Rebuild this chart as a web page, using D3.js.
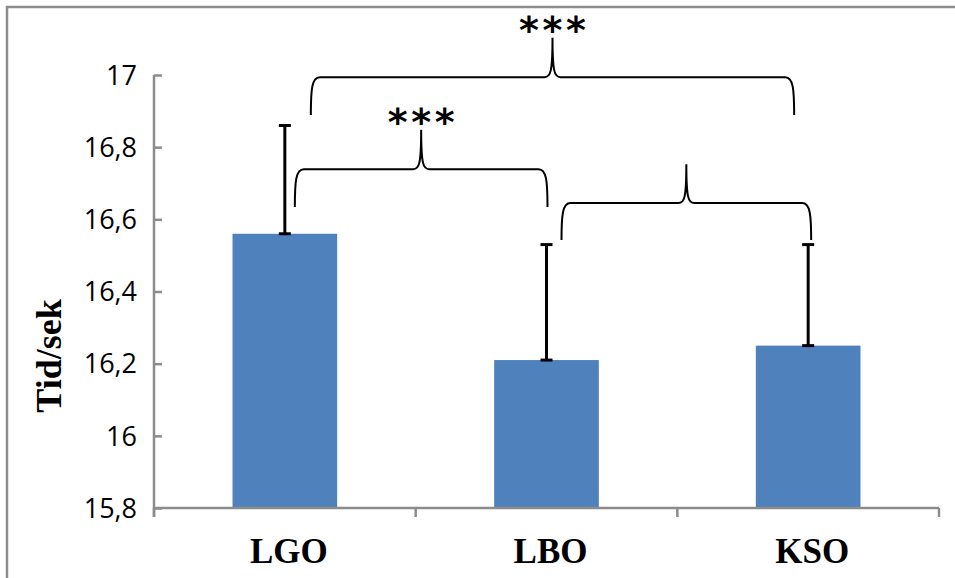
<!DOCTYPE html>
<html>
<head>
<meta charset="utf-8">
<script src="https://cdnjs.cloudflare.com/ajax/libs/d3/7.8.5/d3.min.js"></script>
<style>
  body { margin: 0; background: #fff; }
  svg { display: block; }
</style>
</head>
<body>
<svg id="chart" width="955" height="578"></svg>
<script>
// chart values
var categories = ['LGO', 'LBO', 'KSO'];
var means = [16.56, 16.21, 16.25];
var errorsUp = [0.30, 0.32, 0.28];
var yTicks = [15.8, 16, 16.2, 16.4, 16.6, 16.8, 17];
var yTitle = 'Tid/sek';

// significance braces: from/to category index, levels in data units
var braceFrom = [0, 0, 1];
var braceTo = [2, 1, 2];
var braceBase = [16.889, 16.634, 16.543];
var braceLevel = [16.994, 16.739, 16.645];
var bracePeak = [17.103, 16.848, 16.753];
var braceLabel = ['***', '***', ''];

var svg = d3.select('#chart');
var plotL = 154, plotR = 939, plotT = 75, plotB = 508;

var x = d3.scaleBand().domain(categories).range([plotL, plotR]).padding(0);
var y = d3.scaleLinear().domain([15.8, 17]).range([plotB, plotT]);
var barW = x.bandwidth() * 0.4;
var cx = function (i) { return x(categories[i]) + x.bandwidth() / 2; };

// frame (only left and top edges show)
svg.append('path')
    .attr('d', 'M7,578 L7,7 L955,7')
    .attr('fill', 'none')
    .attr('stroke', '#8c8c8c')
    .attr('stroke-width', 2.5);

// bars
svg.selectAll('rect.bar')
    .data(means)
    .enter().append('rect')
    .attr('class', 'bar')
    .attr('x', function (d, i) { return cx(i) - barW / 2; })
    .attr('y', function (d) { return y(d); })
    .attr('width', barW)
    .attr('height', function (d) { return y(15.8) - y(d); })
    .attr('fill', '#4f81bd');

// axes
var yAxis = d3.axisRight(y).tickValues(yTicks).tickSize(8).tickFormat('');
var gy = svg.append('g').attr('transform', 'translate(' + plotL + ',0)').call(yAxis);
gy.select('.domain').remove();
gy.append('line').attr('x1', 0).attr('x2', 0).attr('y1', plotT).attr('y2', plotB + 9);
gy.selectAll('line').attr('stroke', '#8c8c8c').attr('stroke-width', 2.5);

svg.selectAll('text.ytick')
    .data(yTicks)
    .enter().append('text')
    .attr('class', 'ytick')
    .attr('x', plotL - 17)
    .attr('y', function (d) { return y(d); })
    .attr('dy', '0.36em')
    .attr('text-anchor', 'end')
    .style('font-family', '"Open Sans", sans-serif')
    .style('font-size', '27px')
    .attr('fill', '#000')
    .text(function (d) { return String(d).replace('.', ','); });

var bounds = d3.range(categories.length + 1).map(function (i) { return plotL + i * x.step(); });
svg.append('line')
    .attr('x1', plotL).attr('x2', plotR)
    .attr('y1', plotB).attr('y2', plotB)
    .attr('stroke', '#8c8c8c').attr('stroke-width', 2.5);
svg.selectAll('line.xtick')
    .data(bounds)
    .enter().append('line')
    .attr('class', 'xtick')
    .attr('x1', function (d) { return d; }).attr('x2', function (d) { return d; })
    .attr('y1', plotB).attr('y2', plotB + 9)
    .attr('stroke', '#8c8c8c').attr('stroke-width', 2.5);

svg.selectAll('text.xlab')
    .data(categories)
    .enter().append('text')
    .attr('class', 'xlab')
    .attr('x', function (d, i) { return cx(i) + 4; })
    .attr('y', 563)
    .attr('text-anchor', 'middle')
    .style('font-family', '"Liberation Serif", "Times New Roman", serif')
    .style('font-weight', 'bold')
    .style('font-size', '35px')
    .text(function (d) { return d; });

svg.append('text')
    .attr('transform', 'translate(61,356) rotate(-90)')
    .attr('text-anchor', 'middle')
    .style('font-family', '"Liberation Serif", "Times New Roman", serif')
    .style('font-weight', 'bold')
    .style('font-size', '36px')
    .text(yTitle);

// error bars (plus direction)
var eb = svg.selectAll('g.err')
    .data(means)
    .enter().append('g')
    .attr('class', 'err')
    .attr('stroke', '#000')
    .attr('stroke-width', 3);
eb.append('line')
    .attr('x1', function (d, i) { return cx(i); })
    .attr('x2', function (d, i) { return cx(i); })
    .attr('y1', function (d) { return y(d); })
    .attr('y2', function (d, i) { return y(d + errorsUp[i]); });
eb.append('line')
    .attr('x1', function (d, i) { return cx(i) - 6; })
    .attr('x2', function (d, i) { return cx(i) + 6; })
    .attr('y1', function (d, i) { return y(d + errorsUp[i]); })
    .attr('y2', function (d, i) { return y(d + errorsUp[i]); });
eb.append('line')
    .attr('x1', function (d, i) { return cx(i) - 6; })
    .attr('x2', function (d, i) { return cx(i) + 6; })
    .attr('y1', function (d) { return y(d); })
    .attr('y2', function (d) { return y(d); });

// curly braces
var insetL = [26, 10, 15];
var insetR = [-14, 1, 3];
function bracePath(xl, xr, yb, yh, yp) {
    var xc = (xl + xr) / 2;
    return 'M' + xl + ',' + yb +
        ' C' + xl + ',' + (yh + 12) + ' ' + (xl + 1) + ',' + yh + ' ' + (xl + 9) + ',' + yh +
        ' L' + (xc - 8) + ',' + yh +
        ' C' + (xc - 2) + ',' + yh + ' ' + xc + ',' + (yh - 5) + ' ' + xc + ',' + yp +
        ' C' + xc + ',' + (yh - 5) + ' ' + (xc + 2) + ',' + yh + ' ' + (xc + 8) + ',' + yh +
        ' L' + (xr - 9) + ',' + yh +
        ' C' + (xr - 1) + ',' + yh + ' ' + xr + ',' + (yh + 12) + ' ' + xr + ',' + yb;
}
braceFrom.forEach(function (f, k) {
    var xl = cx(f) + insetL[k];
    var xr = cx(braceTo[k]) + insetR[k];
    svg.append('path')
        .attr('d', bracePath(xl, xr, y(braceBase[k]), y(braceLevel[k]), y(bracePeak[k])))
        .attr('fill', 'none')
        .attr('stroke', '#000')
        .attr('stroke-width', 2);
    if (braceLabel[k]) {
        var xc = (xl + xr) / 2;
        svg.selectAll(null)
            .data(braceLabel[k].split(''))
            .enter().append('text')
            .attr('x', function (d, j) { return xc + (j - 1) * 23.5; })
            .attr('y', y(bracePeak[k]) + 5)
            .attr('text-anchor', 'middle')
            .style('font-family', '"DejaVu Sans", sans-serif')
            .style('font-weight', 'bold')
            .style('font-size', '38px')
            .text(function (d) { return d; });
    }
});
</script>
</body>
</html>
